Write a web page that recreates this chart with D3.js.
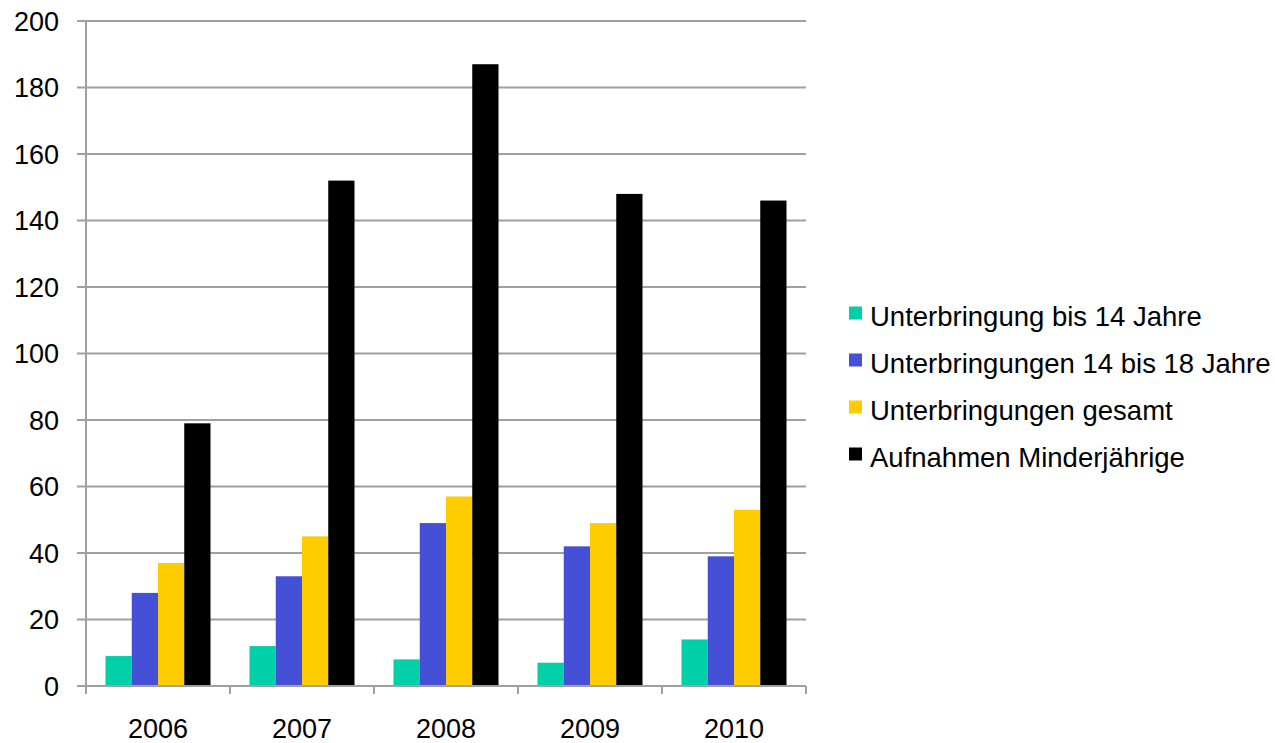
<!DOCTYPE html>
<html>
<head>
    <meta charset="utf-8">
    <title>Unterbringungen</title>
    <script src="https://cdnjs.cloudflare.com/ajax/libs/d3/7.8.5/d3.min.js"></script>
    <style>
        body { margin: 0; background: #fff; }
        text { font-family: "Liberation Sans", Arial, sans-serif; fill: #000; }
    </style>
</head>
<body>
<script type="text/javascript">
    var years = ["2006", "2007", "2008", "2009", "2010"];
    var seriesNames = ["Unterbringung bis 14 Jahre", "Unterbringungen 14 bis 18 Jahre",
                       "Unterbringungen gesamt", "Aufnahmen Minderjährige"];
    var bis14 = [9, 12, 8, 7, 14];
    var von14bis18 = [28, 33, 49, 42, 39];
    var gesamt = [37, 45, 57, 49, 53];
    var aufnahmen = [79, 152, 187, 148, 146];
    var yTicks = [0, 20, 40, 60, 80, 100, 120, 140, 160, 180, 200];
    var colors = ["#00D0AA", "#4450D5", "#FFCC00", "#000000"];

    var seriesValues = [bis14, von14bis18, gesamt, aufnahmen];

    var width = 1275, height = 743,
        plotLeft = 86, plotRight = 806, plotTop = 21, plotBottom = 686,
        fontSize = "27px";

    var svg = d3.select("body").append("svg")
        .attr("width", width)
        .attr("height", height);

    var x = d3.scaleBand().domain(years).range([plotLeft, plotRight]).padding(0);
    var xInner = d3.scaleBand().domain(seriesNames).range([19.5, x.bandwidth() - 19.5]).padding(0);
    var y = d3.scaleLinear().domain([0, 200]).range([plotBottom, plotTop]);

    // grid lines
    svg.append("g")
        .selectAll("line")
        .data(yTicks)
        .enter().append("line")
            .attr("x1", plotLeft - 9)
            .attr("x2", plotRight)
            .attr("y1", function (d) { return y(d); })
            .attr("y2", function (d) { return y(d); })
            .attr("stroke", "#a0a0a0")
            .attr("stroke-width", 2);

    // bars
    var groups = svg.append("g")
        .selectAll("g")
        .data(years)
        .enter().append("g")
            .attr("transform", function (d) { return "translate(" + x(d) + ",0)"; });

    groups.selectAll("rect")
        .data(function (d, i) {
            return seriesNames.map(function (s, j) { return { s: s, v: seriesValues[j][i], c: colors[j] }; });
        })
        .enter().append("rect")
            .attr("x", function (d) { return xInner(d.s); })
            .attr("width", xInner.bandwidth())
            .attr("y", function (d) { return y(d.v); })
            .attr("height", function (d) { return y(0) - y(d.v); })
            .attr("fill", function (d) { return d.c; });

    // y axis
    var yAxis = d3.axisLeft(y).tickValues(yTicks).tickSize(0).tickPadding(27);
    var gy = svg.append("g")
        .attr("transform", "translate(" + plotLeft + ",0)")
        .call(yAxis);
    gy.select(".domain").remove();
    gy.selectAll("text").style("font-size", fontSize).attr("dy", "0.35em");
    svg.append("line")
        .attr("x1", plotLeft).attr("x2", plotLeft)
        .attr("y1", plotTop - 1).attr("y2", plotBottom + 8)
        .attr("stroke", "#a0a0a0").attr("stroke-width", 2);

    // x axis
    var xAxis = d3.axisBottom(x).tickSize(0).tickPadding(33);
    var gx = svg.append("g")
        .attr("transform", "translate(0," + plotBottom + ")")
        .call(xAxis);
    gx.select(".domain").remove();
    gx.selectAll("text").style("font-size", fontSize);
    svg.append("line")
        .attr("x1", plotLeft).attr("x2", plotRight)
        .attr("y1", plotBottom).attr("y2", plotBottom)
        .attr("stroke", "#a0a0a0").attr("stroke-width", 2);
    svg.append("g")
        .selectAll("line")
        .data(years.map(function (d) { return x(d); }).concat([plotRight]))
        .enter().append("line")
            .attr("x1", function (d) { return d; })
            .attr("x2", function (d) { return d; })
            .attr("y1", plotBottom)
            .attr("y2", plotBottom + 8)
            .attr("stroke", "#a0a0a0")
            .attr("stroke-width", 2);

    // legend
    var legend = svg.append("g")
        .attr("transform", "translate(849,313)");
    var items = legend.selectAll("g")
        .data(seriesNames)
        .enter().append("g")
            .attr("transform", function (d, i) { return "translate(0," + (i * 47) + ")"; });
    items.append("rect")
        .attr("x", 0).attr("y", -6.5)
        .attr("width", 13).attr("height", 13)
        .attr("fill", function (d, i) { return colors[i]; });
    items.append("text")
        .attr("x", 21)
        .attr("y", 3)
        .attr("dy", "0.35em")
        .style("font-size", "27.5px")
        .text(function (d) { return d; });
</script>
</body>
</html>
